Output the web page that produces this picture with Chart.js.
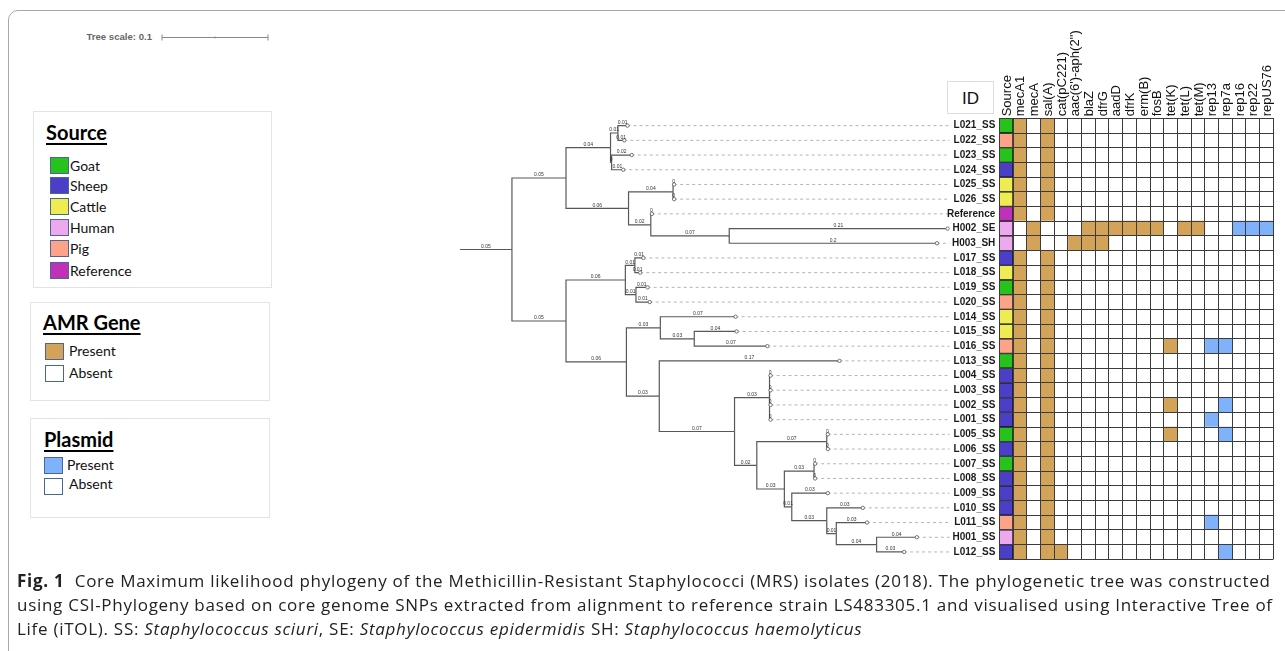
<!DOCTYPE html>
<html><head><meta charset="utf-8">
<script src="https://cdn.jsdelivr.net/npm/chart.js@4.4.1/dist/chart.umd.min.js"></script>
<style>
html,body{margin:0;padding:0;background:#fff;}
body{width:1285px;height:651px;position:relative;overflow:hidden;font-family:'Liberation Sans',Arial,sans-serif;}
canvas{position:absolute;left:0;top:0;}
#frame{position:absolute;left:8px;top:10px;width:1320px;height:700px;border:1px solid #a8a8a8;border-radius:10px;box-sizing:border-box;}
.box{position:absolute;border:1px solid #e3e3e3;box-sizing:border-box;}
.ttl{position:absolute;font-family:Lato,'Open Sans',sans-serif;font-weight:bold;font-size:20px;line-height:20px;text-decoration:underline;text-underline-offset:3px;text-decoration-thickness:2px;color:#000;white-space:nowrap;}
.sw{position:absolute;width:19px;height:17px;box-sizing:border-box;border:1.5px solid #4a6598;}
.lt{position:absolute;font-family:Lato,'Open Sans',sans-serif;font-size:14px;line-height:14px;color:#111;white-space:nowrap;}
#idbox{position:absolute;left:947px;top:81px;width:47px;height:33px;border:1px solid #ddd;box-sizing:border-box;font-size:17px;line-height:33px;text-align:center;color:#111;}
#caption{position:absolute;left:17px;top:569px;font-family:'Open Sans',sans-serif;font-size:17px;letter-spacing:0.72px;line-height:24px;color:#222;white-space:nowrap;}
#scaletxt{position:absolute;left:30px;top:31px;width:122px;text-align:right;font-size:9.6px;font-weight:bold;color:#666;line-height:12px;}
</style>
</head><body>
<div id="frame"></div>
<div id="scaletxt">Tree scale: 0.1</div>

<div class="box" style="left:33px;top:111px;width:239px;height:177px;"></div>
<div class="ttl" style="left:46px;top:122px;">Source</div>
<div id="srcLegend"></div>

<div class="box" style="left:30px;top:302px;width:240px;height:99px;"></div>
<div class="ttl" style="left:43px;top:312px;">AMR Gene</div>
<div class="sw" style="left:45px;top:343px;background:#d3a35a;"></div><div class="lt" style="left:69px;top:344px;">Present</div>
<div class="sw" style="left:45px;top:365px;background:#fff;"></div><div class="lt" style="left:69px;top:366px;">Absent</div>

<div class="box" style="left:30px;top:418px;width:240px;height:100px;"></div>
<div class="ttl" style="left:44px;top:429px;">Plasmid</div>
<div class="sw" style="left:44px;top:457px;background:#80b2fb;"></div><div class="lt" style="left:67px;top:458px;">Present</div>
<div class="sw" style="left:44px;top:478px;background:#fff;"></div><div class="lt" style="left:69px;top:477px;">Absent</div>

<div id="idbox">ID</div>
<canvas id="tree" width="1285" height="651"></canvas>
<canvas id="heat" width="1285" height="651"></canvas>

<div id="caption"><b>Fig. 1</b>&nbsp; Core Maximum likelihood phylogeny of the Methicillin-Resistant Staphylococci (MRS) isolates (2018). The phylogenetic tree was constructed<br>using CSI-Phylogeny based on core genome SNPs extracted from alignment to reference strain LS483305.1 and visualised using Interactive Tree of<br>Life (iTOL). SS: <i>Staphylococcus sciuri</i>, SE: <i>Staphylococcus epidermidis</i> SH: <i>Staphylococcus haemolyticus</i></div>

<script>
// ---------- DATA ----------
const nodeNames = ['root',
 'A','A1','a','L021_SS','L022_SS','b','L023_SS','L024_SS',
 'A2','c','L025_SS','L026_SS','d','Reference','e','H002_SE','H003_SH',
 'B','B1','f','L017_SS','L018_SS','g','L019_SS','L020_SS',
 'B2','h','L014_SS','j','L015_SS','L016_SS',
 'i','L013_SS','k','l','L004_SS','L003_SS','L002_SS','L001_SS',
 'm','n','L005_SS','L006_SS','o','p','L007_SS','L008_SS',
 'q','L009_SS','r','L010_SS','s','L011_SS','t','H001_SS','L012_SS'];
const nodeParents = [null,
 'root','A','A1','a','a','A1','b','b',
 'A','A2','c','c','A2','d','d','e','e',
 'root','B','B1','f','f','B1','g','g',
 'B','B2','h','h','j','j',
 'B2','i','i','k','l','l','l','l',
 'k','m','n','n','m','o','p','p',
 'o','q','q','r','r','s','s','t','t'];
const branchLengths = [0.049,
 0.051,0.042,0.007,0.009,0.006,0.001,0.019,0.011,
 0.059,0.042,0.001,0.001,0.021,0.001,0.074,0.206,0.196,
 0.051,0.056,0.009,0.008,0.005,0.010,0.011,0.013,
 0.057,0.032,0.071,0.032,0.040,0.069,
 0.031,0.170,0.071,0.033,0.001,0.001,0.001,0.001,
 0.021,0.066,0.001,0.001,0.026,0.028,0.001,0.001,
 0.007,0.034,0.033,0.034,0.009,0.029,0.038,0.038,0.026];
const treeScale = 0.1;

const isolates = ['L021_SS','L022_SS','L023_SS','L024_SS','L025_SS','L026_SS','Reference','H002_SE','H003_SH',
 'L017_SS','L018_SS','L019_SS','L020_SS','L014_SS','L015_SS','L016_SS','L013_SS',
 'L004_SS','L003_SS','L002_SS','L001_SS','L005_SS','L006_SS','L007_SS','L008_SS',
 'L009_SS','L010_SS','L011_SS','H001_SS','L012_SS'];
const sources = ['Goat','Pig','Goat','Sheep','Cattle','Cattle','Reference','Human','Human',
 'Sheep','Cattle','Goat','Pig','Cattle','Cattle','Pig','Goat',
 'Sheep','Sheep','Sheep','Sheep','Goat','Sheep','Goat','Sheep',
 'Sheep','Sheep','Pig','Human','Sheep'];
const sourceTypes = ['Goat','Sheep','Cattle','Human','Pig','Reference'];
const sourceColors = ['#27c21b','#4a3fc6','#eeec50','#eea8ee','#fda488','#c030b8'];

const amrGenes = ['mecA1','mecA','sal(A)','cat(pC221)',"aac(6')-aph(2'')",'blaZ','dfrG','aadD','dfrK','erm(B)','fosB','tet(K)','tet(L)','tet(M)'];
const amrMatrix = [
 [1,0,1,0,0,0,0,0,0,0,0,0,0,0],
 [1,0,1,0,0,0,0,0,0,0,0,0,0,0],
 [1,0,1,0,0,0,0,0,0,0,0,0,0,0],
 [1,0,1,0,0,0,0,0,0,0,0,0,0,0],
 [1,0,1,0,0,0,0,0,0,0,0,0,0,0],
 [1,0,1,0,0,0,0,0,0,0,0,0,0,0],
 [1,0,1,0,0,0,0,0,0,0,0,0,0,0],
 [0,1,0,0,0,1,1,1,1,1,1,0,1,1],
 [0,1,0,0,1,1,1,0,0,0,0,0,0,0],
 [1,0,1,0,0,0,0,0,0,0,0,0,0,0],
 [1,0,1,0,0,0,0,0,0,0,0,0,0,0],
 [1,0,1,0,0,0,0,0,0,0,0,0,0,0],
 [1,0,1,0,0,0,0,0,0,0,0,0,0,0],
 [1,0,1,0,0,0,0,0,0,0,0,0,0,0],
 [1,0,1,0,0,0,0,0,0,0,0,0,0,0],
 [1,0,1,0,0,0,0,0,0,0,0,1,0,0],
 [1,0,1,0,0,0,0,0,0,0,0,0,0,0],
 [1,0,1,0,0,0,0,0,0,0,0,0,0,0],
 [1,0,1,0,0,0,0,0,0,0,0,0,0,0],
 [1,0,1,0,0,0,0,0,0,0,0,1,0,0],
 [1,0,1,0,0,0,0,0,0,0,0,0,0,0],
 [1,0,1,0,0,0,0,0,0,0,0,1,0,0],
 [1,0,1,0,0,0,0,0,0,0,0,0,0,0],
 [1,0,1,0,0,0,0,0,0,0,0,0,0,0],
 [1,0,1,0,0,0,0,0,0,0,0,0,0,0],
 [1,0,1,0,0,0,0,0,0,0,0,0,0,0],
 [1,0,1,0,0,0,0,0,0,0,0,0,0,0],
 [1,0,1,0,0,0,0,0,0,0,0,0,0,0],
 [1,0,1,0,0,0,0,0,0,0,0,0,0,0],
 [1,0,1,1,0,0,0,0,0,0,0,0,0,0]];
const plasmids = ['rep13','rep7a','rep16','rep22','repUS76'];
const plasmidMatrix = [
 [0,0,0,0,0],[0,0,0,0,0],[0,0,0,0,0],[0,0,0,0,0],[0,0,0,0,0],[0,0,0,0,0],[0,0,0,0,0],
 [0,0,1,1,1],[0,0,0,0,0],
 [0,0,0,0,0],[0,0,0,0,0],[0,0,0,0,0],[0,0,0,0,0],[0,0,0,0,0],[0,0,0,0,0],
 [1,1,0,0,0],[0,0,0,0,0],
 [0,0,0,0,0],[0,0,0,0,0],[0,1,0,0,0],[1,0,0,0,0],[0,1,0,0,0],[0,0,0,0,0],[0,0,0,0,0],[0,0,0,0,0],
 [0,0,0,0,0],[0,0,0,0,0],[1,0,0,0,0],[0,0,0,0,0],[0,1,0,0,0]];
const amrColor = '#d3a35a';
const plasmidColor = '#80b2fb';

// ---------- Source legend (HTML) ----------
const legendTops = [157,177,198,219,240,262];
const srcL = document.getElementById('srcLegend');
sourceTypes.forEach((s,i)=>{
  const sw=document.createElement('div'); sw.className='sw';
  sw.style.left='50px'; sw.style.top=legendTops[i]+'px'; sw.style.background=sourceColors[i];
  const t=document.createElement('div'); t.className='lt';
  t.style.left='70px'; t.style.top=(legendTops[i]+2)+'px'; t.textContent=s;
  srcL.appendChild(sw); srcL.appendChild(t);
});

// ---------- Tree layout from data ----------
const idx = {}; nodeNames.forEach((n,i)=>idx[n]=i);
const children = nodeNames.map(()=>[]);
nodeParents.forEach((p,i)=>{ if(p!==null) children[idx[p]].push(i); });
const nx=[], ny=[];
function place(i,x0){
  nx[i]=x0+branchLengths[i];
  const ch=children[i];
  if(!ch.length){ ny[i]=isolates.indexOf(nodeNames[i]); }
  else { ch.forEach(c=>place(c,nx[i])); ny[i]=(ny[ch[0]]+ny[ch[ch.length-1]])/2; }
}
const rootI = nodeParents.indexOf(null);
place(rootI,0);
const tips = nodeNames.map((n,i)=>i).filter(i=>!children[i].length);
const treeMax = 0.462;
const lineColor = '#585858';

const datasets = [];
datasets.push({data: tips.map(i=>({x:nx[i],y:ny[i]})), showLine:false, pointRadius:1.7, pointStyle:'circle',
  pointBackgroundColor:'#fff', pointBorderColor:'#555', pointBorderWidth:0.8, order:0});
nodeNames.forEach((n,i)=>{
  const p=nodeParents[i];
  let d;
  if(p===null) d=[{x:0,y:ny[i]},{x:nx[i],y:ny[i]}];
  else { const pi=idx[p]; d=[{x:nx[pi],y:ny[pi]},{x:nx[pi],y:ny[i]},{x:nx[i],y:ny[i]}]; }
  datasets.push({data:d, showLine:true, borderColor:lineColor, borderWidth:1.2, pointRadius:0, order:1});
});
tips.forEach(i=>{
  datasets.push({data:[{x:nx[i],y:ny[i]},{x:treeMax,y:ny[i]}], showLine:true, borderColor:'#b5b5b5',
    borderWidth:1, borderDash:[3,3], pointRadius:0, order:2});
});

const fmt = v => String(parseFloat(v.toFixed(2)));
const treeLabels = {
  id:'treeLabels',
  afterDatasetsDraw(chart){
    const ctx=chart.ctx, xs=chart.scales.x, ys=chart.scales.y;
    ctx.save();
    ctx.font='5px "Liberation Sans", Arial'; ctx.fillStyle='#333'; ctx.textAlign='center'; ctx.textBaseline='bottom';
    nodeNames.forEach((n,i)=>{
      const p=nodeParents[i]; const x0=p===null?0:nx[idx[p]];
      ctx.fillText(fmt(branchLengths[i]), xs.getPixelForValue((x0+nx[i])/2), ys.getPixelForValue(ny[i])-0.6);
    });
    // tree scale bar
    const w = xs.getPixelForValue(treeScale)-xs.getPixelForValue(0);
    const bx=162, by=37.5;
    ctx.strokeStyle='#888'; ctx.lineWidth=1;
    ctx.beginPath(); ctx.moveTo(bx,by); ctx.lineTo(bx+w,by);
    ctx.moveTo(bx,by-3); ctx.lineTo(bx,by+3); ctx.moveTo(bx+w,by-3); ctx.lineTo(bx+w,by+3);
    ctx.moveTo(bx+w/2,by-1); ctx.lineTo(bx+w/2,by+1);
    ctx.stroke();
    ctx.restore();
  }
};

const rowsTop = 118.3, rowsBottom = 559.3;
new Chart(document.getElementById('tree'), {
  type:'scatter',
  data:{datasets},
  options:{responsive:false, animation:false, events:[],
    layout:{padding:{left:460, right:1285-(460+treeMax*1060), top:rowsTop, bottom:651-rowsBottom}},
    plugins:{legend:{display:false}, tooltip:{enabled:false}},
    scales:{
      x:{type:'linear', min:0, max:treeMax, display:false},
      y:{type:'linear', min:-0.5, max:isolates.length-0.5, reverse:true, display:false}
    }
  },
  plugins:[treeLabels]
});

// ---------- Heatmap ----------
const columns = ['Source', ...amrGenes, ...plasmids];
function cellColor(r,c){
  if(c===0) return sourceColors[sourceTypes.indexOf(sources[r])];
  if(c<=amrGenes.length) return amrMatrix[r][c-1] ? amrColor : '#ffffff';
  return plasmidMatrix[r][c-1-amrGenes.length] ? plasmidColor : '#ffffff';
}
const heatSets = columns.map((col,ci)=>({
  label: col,
  data: isolates.map(()=>[ci, ci+1]),
  backgroundColor: isolates.map((_,ri)=>cellColor(ri,ci)),
  borderColor: ci===0 ? '#111' : 'rgba(0,0,0,0)',
  borderWidth: ci===0 ? 1 : 0,
  borderSkipped: false,
  barPercentage:1, categoryPercentage:1, grouped:false,
  xAxisID:'x', yAxisID:'y'
}));
const gridCol = '#3c3c3c';
const headerLabels = {
  id:'headerLabels',
  afterDraw(chart){
    const ctx=chart.ctx, s=chart.scales.xh;
    ctx.save();
    ctx.font='13px "Liberation Sans", Arial'; ctx.fillStyle='#111';
    ctx.textAlign='left'; ctx.textBaseline='alphabetic';
    columns.forEach((c,i)=>{
      ctx.save();
      ctx.translate(s.getPixelForValue(i)+4.6, s.bottom-2);
      ctx.rotate(-Math.PI/2);
      ctx.fillText(c,0,0);
      ctx.restore();
    });
    ctx.restore();
  }
};
new Chart(document.getElementById('heat'), {
  type:'bar',
  data:{labels: isolates, datasets: heatSets},
  options:{responsive:false, animation:false, events:[], indexAxis:'y',
    layout:{padding:{left:940, right:11.7, top:rowsTop-100, bottom:651-rowsBottom}},
    plugins:{legend:{display:false}, tooltip:{enabled:false}},
    scales:{
      x:{type:'linear', min:0, max:columns.length, display:false},
      xh:{type:'category', labels:columns, position:'top', offset:true,
        grid:{offset:true, color:gridCol, lineWidth:1, drawTicks:false, z:1},
        border:{display:true, color:gridCol, z:1},
        ticks:{display:false},
        afterFit(s){ s.height=100; }},
      y:{type:'category', offset:true,
        grid:{offset:true, color:gridCol, lineWidth:1, drawTicks:false, z:1},
        border:{display:true, color:gridCol, z:1},
        ticks:{autoSkip:false, padding:4, color:'#1a1a1a', font:{family:'"Liberation Sans", Arial', size:10, weight:'bold'}},
        afterFit(s){ s.width=59.3; }}
    }
  },
  plugins:[headerLabels]
});
</script>
</body></html>
